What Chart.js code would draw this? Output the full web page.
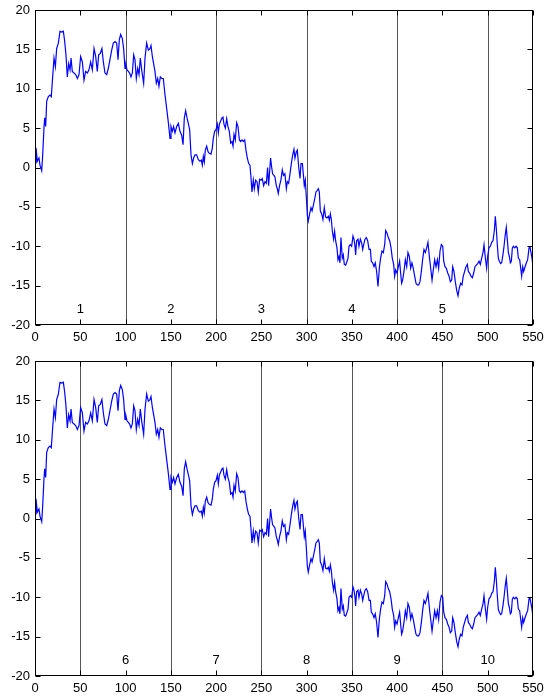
<!DOCTYPE html>
<html>
<head>
<meta charset="utf-8">
<script src="https://cdn.jsdelivr.net/npm/chart.js@4.4.1/dist/chart.umd.min.js"></script>
<style>
  html, body { margin: 0; padding: 0; background: #fff; }
  canvas { display: block; }
</style>
</head>
<body>
<canvas id="top" width="545" height="351"></canvas>
<canvas id="bottom" width="545" height="346"></canvas>
<script>
// step positions and walk values
const stepX = [
  0,1.1,2.6,4.4,5.5,7.4,8.5,9.9,10.7,11.8,12.9,14.7,16.6,18.0,19.5,21.0,22.5,23.9,25.8,27.6,29.5,31.3,32.8,34.2,35.7,37.2,38.7,39.8,41.2,43.1,44.9,46.8,48.6,50.4,52.3,54.1,55.9,57.8,59.6,61.5,63.3,65.2,67.0,68.8,70.3,72.1,73.9,75.5,77.3,79.2,81.0,82.8,84.7,86.5,88.4,90.2,91.7,93.1,
  94.6,96.4,97.9,99.4,100.5,101.6,103.1,104.5,106.0,107.5,109.0,110.4,111.9,113.4,114.9,116.3,117.8,120.0,121.5,123.3,125.2,127.0,128.1,129.6,131.0,132.5,134.0,135.5,136.9,138.4,139.9,141.7,143.6,145.4,147.2,149.1,150.2,151.7,153.1,154.6,156.5,158.3,160.1,162.0,163.5,164.9,166.4,167.9,169.3,170.8,172.3,173.8,175.2,176.7,178.5,180.4,182.2,
  183.7,184.8,185.9,187.0,188.1,189.6,191.1,192.5,194.4,195.8,196.9,198.4,199.9,201.4,202.5,203.6,205.0,206.5,207.6,208.7,210.2,211.7,213.1,214.6,216.1,217.6,218.7,219.8,221.2,222.7,224.2,225.7,227.1,228.6,230.1,231.6,233.0,234.5,236.0,237.4,238.5,239.6,241.1,242.2,243.7,245.2,246.6,248.1,249.6,251.0,252.5,254.0,255.5,256.9,258.0,259.1,260.2,261.3,262.4,263.9,265.0,266.5,267.6,268.7,270.1,271.6,273.1,274.5,276.0,
  277.6,278.7,280.1,281.6,283.1,284.6,286.0,287.1,288.6,289.7,291.2,292.7,293.8,295.3,296.3,297.4,298.5,299.7,300.8,301.8,303.3,304.8,306.0,307.4,308.9,310.3,311.8,312.9,314.0,315.1,316.6,318.0,319.5,321.0,322.5,324.0,325.1,326.2,327.3,328.4,329.8,330.9,332.0,333.5,334.6,335.7,336.8,337.9,339.4,340.5,341.6,343.1,344.6,345.7,346.8,348.2,349.7,351.2,352.3,353.4,354.1,355.2,356.7,357.8,359.3,360.8,361.9,363.0,364.5,365.9,367.4,368.9,370.4,
  371.4,372.9,374.4,375.8,377.3,378.8,380.3,381.7,383.2,384.7,386.2,387.3,388.7,390.2,391.7,393.2,394.6,396.1,397.2,398.3,399.8,401.3,402.7,403.8,404.9,406.0,407.5,409.0,410.5,411.9,413.4,414.9,416.3,417.8,419.3,420.8,422.2,423.7,425.2,426.7,428.1,429.6,431.1,432.6,434.0,435.5,437.0,438.5,439.9,441.4,442.9,444.4,445.8,447.3,448.8,450.3,451.4,452.8,454.3,455.8,457.3,458.7,460.2,
  461.3,462.7,464.2,465.7,467.2,468.6,470.1,471.6,473.0,474.5,476.0,477.5,478.6,480.0,481.5,483.0,484.5,485.9,487.4,488.9,490.4,491.8,493.3,494.8,495.9,497.4,498.8,499.9,501.4,502.9,504.4,505.8,507.3,508.4,509.5,510.6,511.7,512.8,514.3,515.4,516.9,518.0,519.4,520.5,521.6,522.8,523.9,525.0,526.1,527.2,528.3,529.8,531.3,532.7,533.8,535.3,536.4,537.5,538.6,539.7,541.2,542.7,544.1,545.6,546.7,547.8,548.9,550.0
];
const walkY = [
  0.6,2.5,0.8,1.2,0.3,-0.4,1.6,5.0,6.3,5.2,8.4,9.0,9.2,9.0,11.5,13.9,12.8,15.1,15.8,17.3,17.2,17.3,16.0,14.3,11.5,13.2,12.4,13.9,12.2,12.0,11.8,11.3,11.8,14.1,13.4,11.1,12.2,12.0,12.4,13.4,12.4,15.1,14.1,12.2,14.3,14.5,15.1,13.4,12.0,11.8,12.6,13.7,14.9,15.8,16.0,15.8,13.7,16.2,
  16.9,16.4,15.1,12.6,13.0,12.4,12.2,12.0,11.5,12.0,14.3,13.7,11.3,12.6,11.8,13.9,12.4,10.7,13.9,15.8,14.9,15.1,15.5,14.1,13.2,12.2,10.7,11.3,10.3,11.5,11.3,11.3,9.2,7.5,5.8,3.7,5.2,4.6,5.2,4.4,5.2,5.6,4.6,4.1,2.9,6.3,7.2,6.3,5.6,4.8,1.6,0.5,1.2,1.6,1.6,1.0,0.8,
  0.95,0.3,1.4,0.7,2.2,2.7,2.0,1.8,1.7,2.45,3.7,4.6,4.8,5.5,4.4,5.5,5.9,6.3,6.4,5.5,5.0,6.2,5.2,4.6,3.1,3.3,2.7,4.2,3.5,5.7,5.2,3.5,3.3,3.5,3.3,3.5,2.2,1.2,0.5,0.3,-1.2,-3.1,-1.6,-2.7,-1.6,-1.8,-3.1,-1.5,-1.6,-1.4,-2.3,-1.8,-2.0,0.0,-2.3,-0.55,1.2,0.1,-0.8,-1.0,-1.2,-2.3,-2.7,-3.3,-2.3,-1.6,-0.3,-1.0,-0.8,
  -2.7,-1.8,-2.0,-0.8,0.5,1.6,2.3,1.2,2.0,2.2,0.1,-1.4,0.5,0.5,-0.8,-2.3,-1.6,-3.8,-6.1,-6.8,-5.9,-5.1,-5.5,-4.8,-4.0,-3.1,-2.9,-2.7,-3.1,-5.5,-5.9,-6.6,-5.1,-6.3,-6.4,-6.2,-6.7,-5.9,-6.6,-8.1,-9.1,-8.1,-9.3,-10.2,-11.7,-11.3,-12.1,-8.9,-11.5,-11.1,-12.3,-12.4,-11.9,-11.5,-10.0,-9.8,-10.0,-8.7,-9.1,-10.0,-11.1,-9.3,-9.1,-10.0,-9.1,-9.6,-10.4,-9.8,-9.1,-8.9,-9.3,-10.4,-10.4,
  -11.9,-12.1,-12.6,-12.1,-13.2,-15.1,-12.8,-11.5,-10.6,-10.8,-9.8,-8.0,-8.3,-8.9,-9.3,-10.2,-11.5,-12.3,-13.8,-13.0,-13.4,-12.6,-11.9,-13.4,-14.7,-14.3,-13.2,-11.7,-12.6,-10.8,-11.3,-12.8,-12.1,-12.8,-13.8,-14.7,-14.9,-14.9,-14.5,-13.2,-11.7,-10.4,-10.8,-10.2,-9.5,-11.3,-12.8,-14.3,-13.0,-11.7,-12.6,-11.7,-12.8,-10.6,-9.8,-10.0,-11.9,-12.6,-12.8,-13.4,-13.8,-14.5,-14.3,
  -12.6,-13.2,-14.5,-15.6,-16.3,-15.3,-14.7,-14.9,-13.8,-13.2,-12.6,-12.3,-13.2,-13.4,-13.8,-14.0,-13.4,-12.6,-12.4,-12.2,-11.9,-12.3,-11.5,-10.8,-9.8,-11.5,-12.8,-11.3,-10.2,-10.0,-9.5,-9.3,-8.0,-6.2,-7.8,-9.8,-11.5,-11.9,-12.2,-12.1,-11.0,-10.0,-8.5,-7.6,-9.1,-10.8,-11.3,-12.1,-11.9,-10.2,-10.0,-10.2,-10.0,-10.2,-11.5,-11.7,-12.8,-13.8,-12.6,-13.2,-12.6,-12.1,-11.7,-10.2,-10.1,-10.8,-11.5,-12.6
];

// segment boundaries and segment numbers
const topDividers = [100, 200, 300, 400, 500];
const topLabels = ['1', '2', '3', '4', '5'];
const topLabelX = [50, 150, 250, 350, 450];
const bottomDividers = [50, 150, 250, 350, 450];
const bottomLabels = ['6', '7', '8', '9', '10'];
const bottomLabelX = [100, 200, 300, 400, 500];
const labelY = -18;

const xTicks = [0, 50, 100, 150, 200, 250, 300, 350, 400, 450, 500, 550];
const yTicks = [-20, -15, -10, -5, 0, 5, 10, 15, 20];

const FONT = "'Liberation Sans', Arial, sans-serif";

const points = stepX.map((x, i) => ({x: x, y: walkY[i]}));

//box, inward ticks, dividers and segment numbers
const boxPlugin = {
  id: 'box',
  beforeDatasetsDraw(chart, args, opts) {
    const {ctx, chartArea: a, scales: {x}} = chart;
    ctx.save();
    ctx.strokeStyle = '#555';
    ctx.lineWidth = 1;
    opts.dividers.forEach(v => {
      const px = Math.round(x.getPixelForValue(v)) + 0.5;
      ctx.beginPath();
      ctx.moveTo(px, a.top);
      ctx.lineTo(px, a.bottom);
      ctx.stroke();
    });
    ctx.restore();
  },
  afterDatasetsDraw(chart, args, opts) {
    const {ctx, chartArea: a, scales: {x, y}} = chart;
    const l = Math.round(a.left) + 0.5, r = Math.round(a.right) - 0.5;
    const t = Math.round(a.top) + 0.5, b = Math.round(a.bottom) - 0.5;
    ctx.save();
    ctx.strokeStyle = '#000';
    ctx.lineWidth = 1;
    ctx.strokeRect(l, t, r - l, b - t);
    ctx.beginPath();
    xTicks.forEach(v => {
      const px = Math.round(x.getPixelForValue(v)) + 0.5;
      ctx.moveTo(px, b); ctx.lineTo(px, b - 5);
      ctx.moveTo(px, t); ctx.lineTo(px, t + 5);
    });
    yTicks.forEach(v => {
      const py = Math.round(y.getPixelForValue(v)) + 0.5;
      ctx.moveTo(l, py); ctx.lineTo(l + 5, py);
      ctx.moveTo(r, py); ctx.lineTo(r - 5, py);
    });
    ctx.stroke();

    ctx.fillStyle = '#000';
    ctx.font = '13px ' + FONT;
    ctx.textAlign = 'center';
    ctx.textBaseline = 'middle';
    opts.labels.forEach((txt, i) => {
      ctx.fillText(txt, x.getPixelForValue(opts.labelX[i]), y.getPixelForValue(labelY));
    });
    ctx.restore();
  }
};

function makeChart(id, dividers, labels, labelX, axisHeight) {
  return new Chart(document.getElementById(id), {
    type: 'line',
    data: {
      datasets: [{
        data: points,
        borderColor: '#0000ff',
        borderWidth: 1.2,
        pointRadius: 0,
        tension: 0,
        fill: false
      }]
    },
    options: {
      responsive: false,
      animation: false,
      devicePixelRatio: 1,
      layout: {padding: {top: 10, right: 12, left: 0, bottom: 0}},
      plugins: {
        legend: {display: false},
        tooltip: {enabled: false},
        box: {dividers: dividers, labels: labels, labelX: labelX}
      },
      scales: {
        x: {
          type: 'linear',
          min: 0,
          max: 550,
          afterBuildTicks: s => { s.ticks = xTicks.map(v => ({value: v})); },
          afterFit: s => { s.height = axisHeight; s.paddingLeft = 0; s.paddingRight = 0; },
          grid: {display: false, drawTicks: false},
          border: {display: false},
          ticks: {color: '#000', font: {family: FONT, size: 13}, padding: 5, maxRotation: 0, autoSkip: false}
        },
        y: {
          min: -20,
          max: 20,
          afterBuildTicks: s => { s.ticks = yTicks.map(v => ({value: v})); },
          afterFit: s => { s.width = 35; s.paddingTop = 0; s.paddingBottom = 0; },
          grid: {display: false, drawTicks: false},
          border: {display: false},
          ticks: {color: '#000', font: {family: FONT, size: 13}, padding: 5}
        }
      }
    },
    plugins: [boxPlugin]
  });
}

makeChart('top', topDividers, topLabels, topLabelX, 26);
makeChart('bottom', bottomDividers, bottomLabels, bottomLabelX, 21);
</script>
</body>
</html>
